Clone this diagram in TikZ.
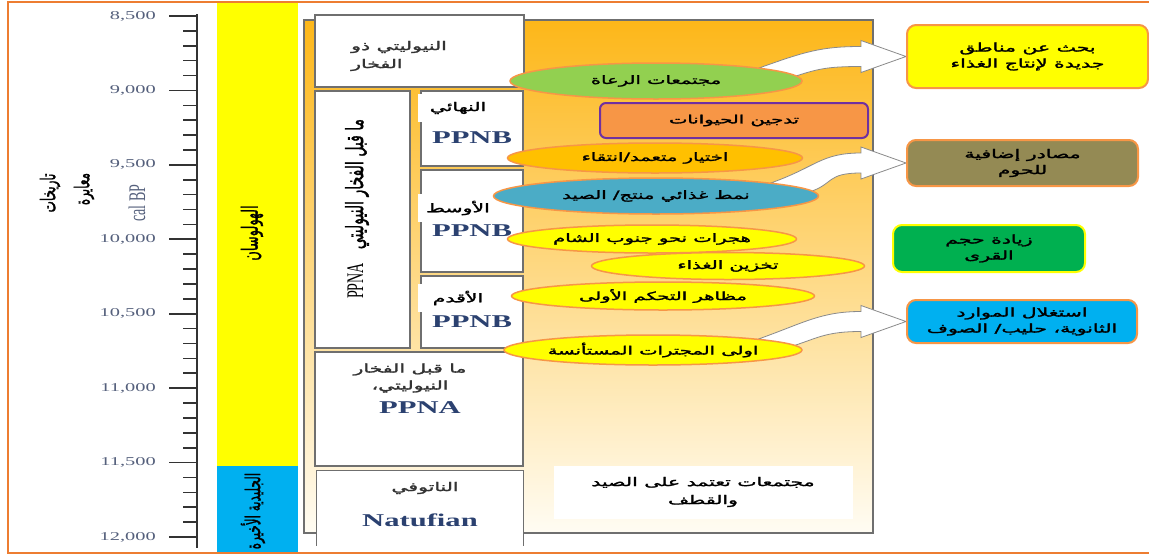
\documentclass[tikz,border=0pt]{standalone}
\usepackage{fontspec}
\setmainfont{Liberation Serif}
\newfontfamily\arabicfont[Script=Arabic,FakeBold=1.6]{DejaVu Sans}
\usepackage{graphicx}
\usepackage{xcolor}
\usepackage{tikz}
\usetikzlibrary{shapes.geometric,calc}
\TeXXeTstate=1

\definecolor{edgeorange}{HTML}{F79646}
\definecolor{frameorange}{HTML}{ED7D31}
\definecolor{boxgray}{HTML}{6F6F6F}
\definecolor{arrowgray}{HTML}{8A8A8A}
\definecolor{axisblue}{HTML}{55607C}
\definecolor{ppnblue}{HTML}{2B4170}
\definecolor{gradtop}{HTML}{FDB719}
\definecolor{gradbot}{HTML}{FFFCF3}
\definecolor{holoyellow}{HTML}{FFFF00}
\definecolor{glacblue}{HTML}{00B0F0}
\definecolor{herdgreen}{HTML}{92D050}
\definecolor{tameorange}{HTML}{F79646}
\definecolor{tamepurple}{HTML}{7030A0}
\definecolor{pickgold}{HTML}{FFC000}
\definecolor{huntteal}{HTML}{4BACC6}
\definecolor{meatolive}{HTML}{948A54}
\definecolor{villgreen}{HTML}{00B050}

\newcommand{\ar}[1]{{\arabicfont\beginR #1\endR}}
\newcommand{\sx}[1]{\scalebox{1.7}[1]{#1}}
\newcommand{\sy}[1]{\scalebox{1}[1.7]{#1}}

\pgfdeclarelayer{back}
\pgfdeclarelayer{arrows}
\pgfsetlayers{back,arrows,main}

% white bent arrow from an ellipse to a box
\newcommand{\bentarrow}[2]{%
\coordinate (tip) at (#2.west);
\path[blockarrow] (#1.north east) .. controls +(45,-16) and ($(tip)+(-85,-10)$) .. ($(tip)+(-45,-10)$)
  -- ($(tip)+(-45,-16)$) -- (tip) -- ($(tip)+(-45,16)$) -- ($(tip)+(-45,10)$)
  .. controls ($(tip)+(-80,10)$) and ($(#1.east)+(15,-12)$) .. ($(#1.east)+(-10,-4)$) -- cycle;
}

\begin{document}
\begin{tikzpicture}[x=1pt,y=-1pt,
  periodbox/.style={draw=boxgray, line width=1.3pt, fill=white, inner sep=0pt},
  periodtext/.style={text=black!80, font=\fontsize{12}{18}\selectfont, inner sep=0pt},
  patch/.style={fill=white, minimum width=80, minimum height=28, inner sep=0pt, font=\fontsize{12}{14}\selectfont},
  ppn/.style={text=ppnblue, font=\fontsize{18}{20}\selectfont\bfseries, inner sep=0pt},
  yearlab/.style={anchor=east, text=axisblue, font=\fontsize{12}{14}\selectfont, inner sep=0pt},
  sidelab/.style={rotate=90, inner sep=0pt, font=\fontsize{12}{14}\selectfont},
  ev/.style={ellipse, draw=edgeorange, line width=1.5pt, inner sep=0pt, font=\fontsize{11.5}{14}\selectfont},
  resbox/.style={rounded corners=9pt, draw=edgeorange, line width=2pt, align=center, inner sep=0pt, font=\fontsize{12}{16}\selectfont},
  blockarrow/.style={fill=white, draw=arrowgray, line width=0.8pt}]
\useasboundingbox (0,0) rectangle (1149,555);

% time axis
\draw[line width=2.2pt, black!80] (197,14) -- (197,548);
\foreach \k in {0,...,35}
  \draw[line width=1.6pt, black!80] (183,16+14.886*\k) -- (197,16+14.886*\k);
\foreach \lab [count=\i from 0] in {{8,500},{9,000},{9,500},{10,000},{10,500},{11,000},{11,500},{12,000}} {
  \draw[line width=1.6pt, black!80] (169,16+74.43*\i) -- (197,16+74.43*\i);
  \node[yearlab] (y\i) at (156,16+74.43*\i) {\sx{\lab}};
}
\node[sidelab] (dates) at (50,193) {\sy{\ar{تاريخات}}};
\node[sidelab] (calib) at (84,189) {\sy{\ar{معايرة}}};
\node[sidelab, text=axisblue, font=\fontsize{14}{16}\selectfont] (calbp) at (137,203) {\sy{cal BP}};

% epochs
\fill[holoyellow] (217,3) rectangle (298,466);
\fill[glacblue] (217,466) rectangle (298,552);
\node[sidelab, font=\fontsize{13}{15}\selectfont] (holo) at (252,233) {\sy{\ar{الهولوسان}}};
\node[sidelab, font=\fontsize{12}{15}\selectfont] (glac) at (253,511) {\sy{\ar{الجليدية الأخيرة}}};

\begin{pgfonlayer}{back}
\draw[boxgray, line width=1.3pt, top color=gradtop, bottom color=gradbot] (304,20) rectangle (873,533);

% periods
\node[periodbox, minimum width=209, minimum height=72] (potneo) at (419.5,51) {};
\node[periodtext, anchor=west, align=left] (potneot) at (351,56) {\sx{\ar{النيوليتي ذو}}\\\sx{\ar{الفخار}}};

\node[periodbox, minimum width=95, minimum height=257] (ppna) at (362.5,219.5) {};
\node[rotate=90, inner sep=0pt, font=\fontsize{14}{16}\selectfont] (ppnat) at (357,209) {\sy{PPNA\hspace{14pt}\ar{ما قبل الفخار النيوليتي}}};

\node[periodbox, minimum width=102, minimum height=75] (late) at (472,128.5) {};
\node[patch] (latet) at (458,108) {\sx{\ar{النهائي}}};
\node[ppn] (latep) at (472,138) {\sx{PPNB}};

\node[periodbox, minimum width=102, minimum height=102] (middle) at (472,221) {};
\node[patch] (middlet) at (458,208) {\sx{\ar{الأوسط}}};
\node[ppn] (middlep) at (472,231) {\sx{PPNB}};

\node[periodbox, minimum width=102, minimum height=72] (early) at (472,312) {};
\node[patch] (earlyt) at (458,298) {\sx{\ar{الأقدم}}};
\node[ppn] (earlyp) at (472,322) {\sx{PPNB}};

\node[periodbox, minimum width=208, minimum height=114] (ppnal) at (419,409) {};
\node[periodtext, align=center, font=\fontsize{12}{17}\selectfont] (ppnalt) at (410,378) {\sx{\ar{ما قبل الفخار}}\\\sx{\ar{النيوليتي،}}};
\node[ppn] (ppnalp) at (420,408) {\sx{PPNA}};

\node[periodbox, draw=none, minimum width=206, minimum height=74] (natuf) at (420,508) {};
\draw[boxgray, line width=1.3pt] (natuf.south west) -- (natuf.north west) -- (natuf.north east) -- (natuf.south east);
\node[periodtext] (natuft) at (425,488) {\sx{\ar{الناتوفي}}};
\node[ppn] (natufp) at (420,520) {\sx{Natufian}};

\node[fill=white, minimum width=299, minimum height=53, align=center, inner sep=0pt, font=\fontsize{12}{18}\selectfont] (hunters) at (703,492) {\sx{\ar{مجتمعات تعتمد على الصيد}}\\\sx{\ar{والقطف}}};
\end{pgfonlayer}

% events
\node[ev, fill=herdgreen, minimum width=292, minimum height=36] (herders) at (656,81) {\sx{\ar{مجتمعات الرعاة}}};
\node[draw=tamepurple, fill=tameorange, line width=2pt, rounded corners=6pt, minimum width=268, minimum height=35, inner sep=0pt, font=\fontsize{11.5}{14}\selectfont] (tame) at (734,120.5) {\sx{\ar{تدجين الحيوانات}}};
\node[ev, fill=pickgold, minimum width=295, minimum height=30] (select) at (655,158) {\sx{\ar{اختيار متعمد/انتقاء}}};
\node[ev, fill=huntteal, minimum width=325, minimum height=36] (diet) at (656,196) {\sx{\ar{نمط غذائي منتج/ الصيد}}};
\node[ev, fill=holoyellow, minimum width=289, minimum height=28] (south) at (652,239) {\sx{\ar{هجرات نحو جنوب الشام}}};
\node[ev, fill=holoyellow, minimum width=273, minimum height=27] (store) at (728,266) {\sx{\ar{تخزين الغذاء}}};
\node[ev, fill=holoyellow, minimum width=303, minimum height=28] (control) at (663,296) {\sx{\ar{مظاهر التحكم الأولى}}};
\node[ev, fill=holoyellow, minimum width=287, minimum height=30] (rumin) at (653,350) {\sx{\ar{اولى المجترات المستأنسة}}};

% outcomes
\node[resbox, fill=holoyellow, minimum width=241, minimum height=63] (newland) at (1027.5,56.5) {\sx{\ar{بحث عن مناطق}}\\\sx{\ar{جديدة لإنتاج الغذاء}}};
\node[resbox, fill=meatolive, minimum width=231, minimum height=46] (meat) at (1022.5,163) {\sx{\ar{مصادر إضافية}}\\\sx{\ar{للحوم}}};
\node[resbox, fill=villgreen, draw=holoyellow, minimum width=192, minimum height=47] (village) at (989,248.5) {\sx{\ar{زيادة حجم}}\\\sx{\ar{القرى}}};
\node[resbox, fill=glacblue, minimum width=230, minimum height=43] (second) at (1022,321.5) {\sx{\ar{استغلال الموارد}}\\\sx{\ar{الثانوية، حليب/ الصوف}}};

\begin{pgfonlayer}{arrows}
\bentarrow{herders}{newland}
\bentarrow{diet}{meat}
\bentarrow{rumin}{second}
\end{pgfonlayer}

\draw[frameorange, line width=2.5pt] (1152,2) -- (8,2) -- (8,553) -- (1152,553);
\end{tikzpicture}
\end{document}
